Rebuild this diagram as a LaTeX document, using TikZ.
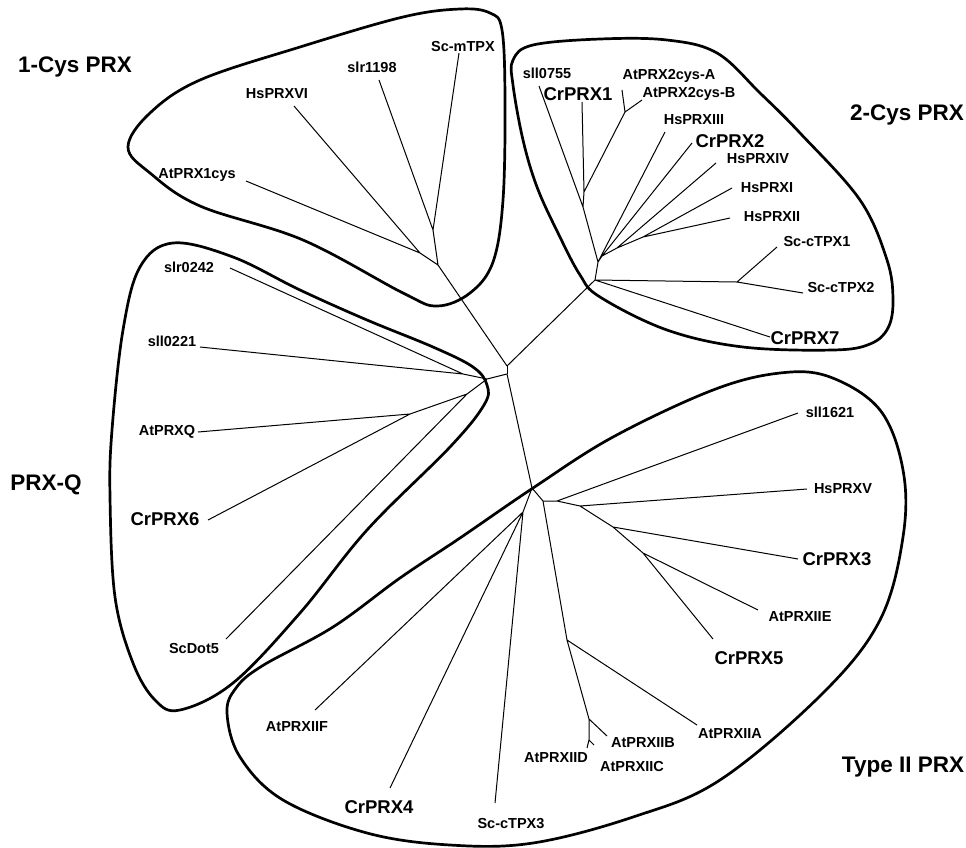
\documentclass[tikz,border=0pt]{standalone}
\usepackage{fontspec}
\setmainfont{Liberation Sans}
\begin{document}
\begin{tikzpicture}[x=1pt,y=-1pt,
    branch/.style={line width=1pt},
    group/.style={line width=2.7pt,line join=round},
    leaf/.style={font=\bfseries\fontsize{14.5}{16}\selectfont,inner sep=0pt},
    crleaf/.style={font=\bfseries\fontsize{18.5}{20}\selectfont,inner sep=0pt},
    clade/.style={font=\bfseries\fontsize{22.5}{24}\selectfont,inner sep=0pt}]
  \useasboundingbox (0,0) rectangle (966,847);

  % group outlines
  \draw[group] plot[smooth cycle,tension=0.6] coordinates {(128,147) (150,113) (200,80) (300,47)
    (403,17) (460,9) (490,13) (502,30) (505,100) (503,200) (493,262) (470,293) (437,306) (403,293)
    (303,240) (200,206) (150,173)};
  \draw[group] plot[smooth cycle,tension=0.6] coordinates {(513,60) (533,45) (600,39) (667,40)
    (717,53) (760,93) (800,133) (860,200) (887,260) (893,300) (888,328) (870,344) (833,350)
    (743,347) (667,330) (600,297) (580,275) (558,233) (537,187) (523,140) (513,85)};
  \draw[group] plot[smooth cycle,tension=0.6] coordinates {(173,243) (233,257) (300,290)
    (367,320) (433,347) (473,367) (487,385) (484,405) (450,447) (367,530) (300,613) (233,683)
    (180,710) (155,700) (133,663) (115,597) (110,497) (112,430) (123,330) (140,267)};
  \draw[group] plot[smooth cycle,tension=0.6] coordinates {(227,713) (236,688) (262,666)
    (333,627) (400,578) (460,538) (533,488) (613,437) (713,390) (780,373) (830,377) (880,410)
    (903,470) (903,537) (880,620) (823,693) (720,780) (633,817) (533,843) (450,845) (367,833)
    (283,800) (240,757)};

  % inner nodes
  \coordinate (A) at (507,366);
  \coordinate (B) at (507,374);
  \coordinate (r1) at (438,265);
  \coordinate (j1) at (420,253);
  \coordinate (j2) at (433,230);
  \coordinate (r2) at (595,280);
  \coordinate (hs) at (598,262);
  \coordinate (sc) at (737,282);
  \coordinate (c0) at (583,207);
  \coordinate (c1) at (584,192);
  \coordinate (at) at (625,112);
  \coordinate (hb) at (602,256);
  \coordinate (hd) at (617,248);
  \coordinate (he) at (643,237);
  \coordinate (rq) at (487,379);
  \coordinate (q1) at (463,374);
  \coordinate (q2) at (467,394);
  \coordinate (q3) at (410,414);
  \coordinate (t0) at (532,488);
  \coordinate (tf) at (523,512);
  \coordinate (t1) at (543,501);
  \coordinate (t2) at (557,501);
  \coordinate (t3) at (580,506);
  \coordinate (t4) at (613,527);
  \coordinate (t5) at (643,553);
  \coordinate (ta) at (567,640);
  \coordinate (tb) at (589,719);
  \coordinate (tc) at (589,740);

  % leaf tips
  \coordinate (AtPRX1cys) at (246,181);
  \coordinate (HsPRXVI) at (294,106);
  \coordinate (slr1198) at (379,80);
  \coordinate (ScmTPX) at (459,53);
  \coordinate (sll0755) at (539,86);
  \coordinate (CrPRX1) at (582,102);
  \coordinate (AtPRX2cysA) at (622,90);
  \coordinate (AtPRX2cysB) at (642,100);
  \coordinate (HsPRXIII) at (665,132);
  \coordinate (CrPRX2) at (692,143);
  \coordinate (HsPRXIV) at (716,163);
  \coordinate (HsPRXI) at (732,188);
  \coordinate (HsPRXII) at (730,218);
  \coordinate (SccTPX1) at (777,247);
  \coordinate (SccTPX2) at (803,293);
  \coordinate (CrPRX7) at (770,337);
  \coordinate (slr0242) at (230,268);
  \coordinate (sll0221) at (200,347);
  \coordinate (AtPRXQ) at (198,432);
  \coordinate (CrPRX6) at (208,520);
  \coordinate (ScDot5) at (226,639);
  \coordinate (sll1621) at (798,413);
  \coordinate (HsPRXV) at (807,489);
  \coordinate (CrPRX3) at (798,559);
  \coordinate (AtPRXIIE) at (758,610);
  \coordinate (CrPRX5) at (713,639);
  \coordinate (AtPRXIIA) at (697,725);
  \coordinate (AtPRXIIB) at (607,736);
  \coordinate (AtPRXIIC) at (594,745);
  \coordinate (AtPRXIID) at (587,748);
  \coordinate (AtPRXIIF) at (315,710);
  \coordinate (CrPRX4) at (390,788);
  \coordinate (SccTPX3) at (495,803);

  % branches
  \draw[branch] (A) -- (B);
  \draw[branch] (A) -- (r1) -- (j1) -- (AtPRX1cys) (j1) -- (HsPRXVI)
    (r1) -- (j2) -- (slr1198) (j2) -- (ScmTPX);
  \draw[branch] (A) -- (r2) -- (hs) -- (c0) -- (sll0755) (c0) -- (c1) -- (CrPRX1)
    (c1) -- (at) -- (AtPRX2cysA) (at) -- (AtPRX2cysB)
    (hs) -- (HsPRXIII) (hs) -- (hb) -- (CrPRX2) (hb) -- (hd) -- (HsPRXIV)
    (hd) -- (he) -- (HsPRXI) (he) -- (HsPRXII)
    (r2) -- (sc) -- (SccTPX1) (sc) -- (SccTPX2) (r2) -- (CrPRX7);
  \draw[branch] (B) -- (rq) -- (q1) -- (slr0242) (q1) -- (sll0221)
    (rq) -- (q2) -- (q3) -- (AtPRXQ) (q3) -- (CrPRX6) (q2) -- (ScDot5);
  \draw[branch] (B) -- (t0) -- (tf) -- (AtPRXIIF) (tf) -- (CrPRX4) (tf) -- (SccTPX3)
    (t0) -- (t1) -- (t2) -- (sll1621) (t2) -- (t3) -- (HsPRXV) (t3) -- (t4) -- (CrPRX3)
    (t4) -- (t5) -- (AtPRXIIE) (t5) -- (CrPRX5)
    (t1) -- (ta) -- (AtPRXIIA) (ta) -- (tb) -- (AtPRXIIB) (tb) -- (tc) -- (AtPRXIID)
    (tc) -- (AtPRXIIC);

  % labels
  \node[clade] (g1) at (75,67) {1-Cys PRX};
  \node[clade] (g2) at (907,115) {2-Cys PRX};
  \node[clade] (g3) at (46,485) {PRX-Q};
  \node[clade] (g4) at (903,767) {Type II PRX};

  \node[leaf] (l-ScmTPX) at (463,47) {Sc-mTPX};
  \node[leaf] (l-slr1198) at (372,67) {slr1198};
  \node[leaf] (l-HsPRXVI) at (277,94) {HsPRXVI};
  \node[leaf] (l-AtPRX1cys) at (197,175) {AtPRX1cys};
  \node[leaf] (l-sll0755) at (547,73) {sll0755};
  \node[crleaf] (l-CrPRX1) at (578,94) {CrPRX1};
  \node[leaf] (l-AtPRX2cysA) at (669,76) {AtPRX2cys-A};
  \node[leaf] (l-AtPRX2cysB) at (689,94) {AtPRX2cys-B};
  \node[leaf] (l-HsPRXIII) at (694,120) {HsPRXIII};
  \node[crleaf] (l-CrPRX2) at (730,141) {CrPRX2};
  \node[leaf] (l-HsPRXIV) at (758,159) {HsPRXIV};
  \node[leaf] (l-HsPRXI) at (767,188) {HsPRXI};
  \node[leaf] (l-HsPRXII) at (772,217) {HsPRXII};
  \node[leaf] (l-SccTPX1) at (817,242) {Sc-cTPX1};
  \node[leaf] (l-SccTPX2) at (841,288) {Sc-cTPX2};
  \node[crleaf] (l-CrPRX7) at (805,338) {CrPRX7};
  \node[leaf] (l-slr0242) at (189,267) {slr0242};
  \node[leaf] (l-sll0221) at (172,341) {sll0221};
  \node[leaf] (l-AtPRXQ) at (167,432) {AtPRXQ};
  \node[crleaf] (l-CrPRX6) at (165,519) {CrPRX6};
  \node[leaf] (l-ScDot5) at (194,648) {ScDot5};
  \node[leaf] (l-sll1621) at (830,412) {sll1621};
  \node[leaf] (l-HsPRXV) at (843,489) {HsPRXV};
  \node[crleaf] (l-CrPRX3) at (837,559) {CrPRX3};
  \node[leaf] (l-AtPRXIIE) at (800,617) {AtPRXIIE};
  \node[crleaf] (l-CrPRX5) at (749,658) {CrPRX5};
  \node[leaf] (l-AtPRXIIA) at (730,734) {AtPRXIIA};
  \node[leaf] (l-AtPRXIIB) at (643,743) {AtPRXIIB};
  \node[leaf] (l-AtPRXIIC) at (632,766) {AtPRXIIC};
  \node[leaf] (l-AtPRXIID) at (556,758) {AtPRXIID};
  \node[leaf] (l-AtPRXIIF) at (297,727) {AtPRXIIF};
  \node[crleaf] (l-CrPRX4) at (379,807) {CrPRX4};
  \node[leaf] (l-SccTPX3) at (511,824) {Sc-cTPX3};
\end{tikzpicture}
\end{document}
